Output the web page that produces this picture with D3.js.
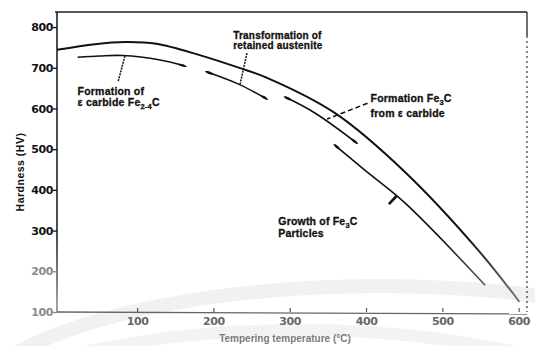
<!DOCTYPE html>
<html>
<head>
<meta charset="utf-8">
<script src="https://cdn.jsdelivr.net/npm/d3@7"></script>
<style>
    body { margin: 0; background: #fff; }
    svg { display: block; }
</style>
</head>
<body>
<div id="chartContainer"><svg width="535" height="346"></svg></div>
<script>
// main hardness curve (tempering temperature in °C, hardness in HV)
const mainTemp = [-5, 45, 85, 125, 182, 235, 268, 359, 451, 547, 601];
const mainHard = [744, 758, 763, 759, 731, 699, 677, 589, 444, 252, 125];

// broken arrow segments under the main curve
const seg1Temp = [22, 51, 81, 130, 163];
const seg1Hard = [726, 729, 730, 719, 704];
const seg2Temp = [191, 235, 270];
const seg2Hard = [690, 658, 623];
const seg3Temp = [294, 333, 388];
const seg3Hard = [628, 589, 515];
const seg4Temp = [359, 398, 451, 556];
const seg4Hard = [510, 449, 368, 166];

// tick labels
const xTicks = [100, 200, 300, 400, 500, 600];
const yTicks = [100, 200, 300, 400, 500, 600, 700, 800];

// leader lines from the notes to the curves: [T1, H1, T2, H2]
const leaders = [
    [84, 729, 75, 665],
    [244, 736, 235, 660],
    [402, 613, 349, 574],
    [440, 385, 430, 365]
];

document.addEventListener("DOMContentLoaded", function () {
    drawChart();
});

function drawChart() {
    const svg = d3.select("#chartContainer svg");
    svg.selectAll("*").remove();

    const left = 57, right = 527, top = 12, bottom = 312;

    const x = d3.scaleLinear().domain([-5, 611]).range([left, right]);
    const y = d3.scaleLinear().domain([100, 837]).range([bottom, top]);

    // faint watermark bands of the scanned page
    svg.append("ellipse")
        .attr("cx", 380).attr("cy", 420).attr("rx", 420).attr("ry", 134)
        .attr("fill", "none").attr("stroke", "#f1f1f1").attr("stroke-width", 14);
    svg.append("ellipse")
        .attr("cx", 300).attr("cy", 470).attr("rx", 400).attr("ry", 140)
        .attr("fill", "none").attr("stroke", "#f3f3f3").attr("stroke-width", 12);

    // ink fades to grey towards the bottom of the scan
    const defs = svg.append("defs");
    const grad = defs.append("linearGradient")
        .attr("id", "fade")
        .attr("gradientUnits", "userSpaceOnUse")
        .attr("x1", 0).attr("y1", 0).attr("x2", 0).attr("y2", 346);
    grad.append("stop").attr("offset", "0.68").attr("stop-color", "#111");
    grad.append("stop").attr("offset", "0.88").attr("stop-color", "#808080");

    defs.append("marker")
        .attr("id", "lens")
        .attr("viewBox", "0 0 10 4")
        .attr("refX", 8).attr("refY", 2)
        .attr("markerWidth", 10).attr("markerHeight", 4)
        .attr("markerUnits", "userSpaceOnUse")
        .attr("orient", "auto-start-reverse")
        .append("path")
        .attr("d", "M0,2 Q5,-0.6 10,2 Q5,4.6 0,2Z")
        .attr("fill", "url(#fade)");

    // frame
    svg.append("line")
        .attr("x1", left - 2).attr("x2", right).attr("y1", top).attr("y2", top)
        .attr("stroke", "#222").attr("stroke-width", 1.3);
    svg.append("line")
        .attr("x1", right).attr("x2", right).attr("y1", top).attr("y2", 36)
        .attr("stroke", "#222").attr("stroke-width", 1.3);
    svg.append("line")
        .attr("x1", right).attr("x2", right).attr("y1", 36).attr("y2", bottom)
        .attr("stroke", "#444").attr("stroke-width", 1.3)
        .attr("stroke-dasharray", "2,3");
    svg.append("line")
        .attr("x1", left).attr("x2", left).attr("y1", top).attr("y2", bottom)
        .attr("stroke", "url(#fade)").attr("stroke-width", 1.5);
    svg.append("line")
        .attr("x1", left).attr("x2", right).attr("y1", bottom).attr("y2", bottom + 2)
        .attr("stroke", "#666").attr("stroke-width", 1.3);

    // y axis
    const yAxis = svg.append("g")
        .attr("transform", `translate(${left},0)`)
        .call(d3.axisLeft(y).tickValues(yTicks).tickSizeInner(4).tickSizeOuter(0).tickPadding(0));
    yAxis.select(".domain").remove();
    yAxis.selectAll("line").attr("stroke", d => d >= 300 ? "#111" : "#888").attr("stroke-width", 1.3);
    yAxis.selectAll("text")
        .attr("font-family", "DejaVu Sans")
        .attr("font-weight", "bold")
        .attr("font-size", "11px")
        .attr("letter-spacing", "-0.4px")
        .attr("fill", d => d >= 300 ? "#111" : "#8a8a8a");

    // x axis
    const xAxis = svg.append("g")
        .attr("transform", `translate(0,${bottom})`)
        .call(d3.axisBottom(x).tickValues(xTicks).tickSizeInner(-4).tickSizeOuter(0).tickPadding(5));
    xAxis.select(".domain").remove();
    xAxis.selectAll("line").attr("stroke", "#555").attr("stroke-width", 1.2);
    xAxis.selectAll("text")
        .attr("font-family", "DejaVu Sans")
        .attr("font-weight", "bold")
        .attr("font-size", "11px")
        .attr("letter-spacing", "-0.4px")
        .attr("fill", "#666");

    // axis titles
    svg.append("text")
        .attr("transform", "translate(24,172) rotate(-90)")
        .attr("text-anchor", "middle")
        .attr("font-family", "Liberation Sans")
        .attr("font-weight", "bold")
        .attr("font-size", "10.5px")
        .attr("letter-spacing", "0.5px")
        .attr("fill", "#111")
        .text("Hardness (HV)");
    svg.append("text")
        .attr("x", 285).attr("y", 342)
        .attr("text-anchor", "middle")
        .attr("font-family", "Liberation Sans")
        .attr("font-weight", "bold")
        .attr("font-size", "10px")
        .attr("fill", "#7a7a7a")
        .text("Tempering temperature (°C)");

    const line = d3.line()
        .x(d => x(d[0]))
        .y(d => y(d[1]))
        .curve(d3.curveCatmullRom.alpha(0.5));

    // main curve
    svg.append("path")
        .datum(d3.zip(mainTemp, mainHard))
        .attr("fill", "none")
        .attr("stroke", "url(#fade)")
        .attr("stroke-width", 2)
        .attr("d", line);

    // arrow segments: [temps, hards, arrow at start, arrow at end]
    const segs = [
        [seg1Temp, seg1Hard, false, true],
        [seg2Temp, seg2Hard, true, true],
        [seg3Temp, seg3Hard, true, true],
        [seg4Temp, seg4Hard, true, false]
    ];
    segs.forEach(s => {
        const p = svg.append("path")
            .datum(d3.zip(s[0], s[1]))
            .attr("fill", "none")
            .attr("stroke", "url(#fade)")
            .attr("stroke-width", 1.6)
            .attr("d", line);
        if (s[2]) p.attr("marker-start", "url(#lens)");
        if (s[3]) p.attr("marker-end", "url(#lens)");
    });

    // leaders
    svg.selectAll(".leader")
        .data(leaders)
        .enter()
        .append("line")
        .attr("class", "leader")
        .attr("x1", d => x(d[0])).attr("y1", d => y(d[1]))
        .attr("x2", d => x(d[2])).attr("y2", d => y(d[3]))
        .attr("stroke", "#111")
        .attr("stroke-width", (d, i) => i === 3 ? 2.6 : 1.5)
        .attr("stroke-dasharray", (d, i) => i === 2 ? "5,3" : (i === 3 ? null : "2,1"));

    // notes
    const notes = [
        { t: 22, h: 634, lines: [["Formation of"], ["ε carbide Fe", "2-4", "C"]] },
        { t: 226, h: 771, lines: [["Transformation of"], ["retained austenite"]] },
        { t: 406, h: 616, lines: [["Formation Fe", "3", "C"], ["from ε carbide"]] },
        { t: 285, h: 314, lines: [["Growth of Fe", "3", "C"], ["Particles"]] }
    ];
    const lineGap = [11.5, 10, 15, 12];

    notes.forEach((n, k) => {
        n.lines.forEach((parts, j) => {
            const txt = svg.append("text")
                .attr("x", x(n.t))
                .attr("y", y(n.h) + j * lineGap[k])
                .attr("font-family", "Liberation Sans")
                .attr("font-weight", "bold")
                .attr("font-size", k === 1 ? "10px" : "10.5px")
                .attr("letter-spacing", "0.2px")
                .attr("fill", "#111")
                .attr("stroke", "#111")
                .attr("stroke-width", 0.3);
            txt.append("tspan").text(parts[0]);
            if (parts.length > 1) {
                txt.append("tspan").attr("dy", 3).attr("font-size", "7.5px").text(parts[1]);
                txt.append("tspan").attr("dy", -3).text(parts[2]);
            }
        });
    });
}
</script>
</body>
</html>
